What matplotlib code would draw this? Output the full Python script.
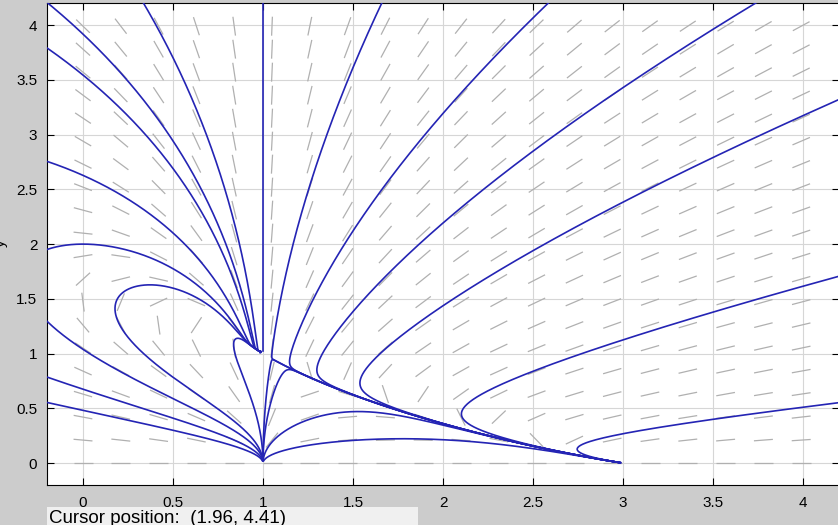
import numpy as np
import matplotlib.pyplot as plt
from matplotlib.collections import LineCollection

plt.rcParams['font.family'] = ['Liberation Sans', 'DejaVu Sans']

# window and tick labels
x_lim = [-0.2, 4.2]
y_lim = [-0.2, 4.2]
x_ticks = [0, 0.5, 1, 1.5, 2, 2.5, 3, 3.5, 4]
x_labels = ['0', '0.5', '1', '1.5', '2', '2.5', '3', '3.5', '4']
y_ticks = [0, 0.5, 1, 1.5, 2, 2.5, 3, 3.5, 4]
y_labels = ['0', '0.5', '1', '1.5', '2', '2.5', '3', '3.5', '4']

# equilibrium points of the system
eq_x = [1, 1, 3]
eq_y = [0, 1, 0]

# points picked on each solution curve
start_x = [-0.18, -0.19, 0.34, -0.19, 0.0, 0.18, 0.86, -0.19, -0.19, -0.19,
           1.0, 1.325, 1.83, 2.15, 3.02, 3.32, 4.19, 1.012, 1.035, 1.5, 2.04]
start_y = [4.18, 3.78, 4.19, 2.75, 2.0, 1.37, 1.14, 1.28, 0.78, 0.55,
           2.5, 2.86, 2.86, 2.4, 2.4, 1.29, 0.55, 0.5, 0.5, 0.47, 0.21]

cursor_text = 'Cursor position:  (1.96, 4.41)'


def field(x, y):
    # x' = (x-1)(3-x-2y),  y' = y(2-x-y)
    return (x - 1) * (3 - x - 2 * y), y * (2 - x - y)


W, H = 838, 525
fig = plt.figure(figsize=(W / 100, H / 100), dpi=100, facecolor='#cccccc')
ax_w = 792 / W
ax_h = 481.8 / H
ax = fig.add_axes([47 / W, 40 / H, ax_w, ax_h])
ax.set_facecolor('white')
ax.set_xlim(x_lim)
ax.set_ylim(y_lim)

# pixels per data unit, so dashes and steps are even on screen
sx = 792 / (x_lim[1] - x_lim[0])
sy = 481.8 / (y_lim[1] - y_lim[0])


def direction(x, y, sign):
    u, v = field(x, y)
    U, V = u * sx, v * sy
    n = np.hypot(U, V)
    if n < 1e-9:
        return None
    return sign * U / n / sx, sign * V / n / sy


def trace(x0, y0, sign, h=0.6, nmax=8000):
    xs, ys = [x0], [y0]
    x, y = x0, y0
    for i in range(nmax):
        d1 = direction(x, y, sign)
        if d1 is None:
            break
        d2 = direction(x + 0.5 * h * d1[0], y + 0.5 * h * d1[1], sign)
        if d2 is None:
            break
        x += h * d2[0]
        y += h * d2[1]
        xs.append(x)
        ys.append(y)
        if x < x_lim[0] - 0.05 or x > x_lim[1] + 0.05 or y < y_lim[0] - 0.05 or y > y_lim[1] + 0.05:
            break
        near = False
        for ex, ey in zip(eq_x, eq_y):
            if np.hypot((x - ex) * sx, (y - ey) * sy) < 3:
                near = True
        if near:
            break
    return xs, ys


# direction field
gx = np.arange(20) * 0.21
gy = np.arange(20) * 0.21
segs = []
half = 9.5
for xv in gx:
    for yv in gy:
        u, v = field(xv, yv)
        U, V = u * sx, v * sy
        n = np.hypot(U, V)
        if n < 1e-9:
            continue
        dx = half * U / n / sx
        dy = half * V / n / sy
        segs.append([(xv - dx, yv - dy), (xv + dx, yv + dy)])
ax.add_collection(LineCollection(segs, colors='#b0b0b0', linewidths=0.9, zorder=2))

# solution curves, forward and backward from each picked point
for x0, y0 in zip(start_x, start_y):
    fx, fy = trace(x0, y0, 1)
    bx, by = trace(x0, y0, -1)
    xs = bx[::-1] + fx[1:]
    ys = by[::-1] + fy[1:]
    ax.plot(xs, ys, color='#2424b4', lw=1.2, zorder=3)

ax.set_xticks(x_ticks)
ax.set_xticklabels(x_labels)
ax.set_yticks(y_ticks)
ax.set_yticklabels(y_labels)
ax.tick_params(direction='in', length=5, width=0.8, top=True, right=True,
               labelsize=11, colors='black')
ax.tick_params(axis='x', pad=8)
ax.tick_params(axis='y', pad=7)
ax.grid(True, color='#d6d6d6', lw=0.8, zorder=1)
ax.set_axisbelow(True)
for s in ax.spines.values():
    s.set_color('black')
    s.set_linewidth(0.8)

# status bar at the bottom, partly cut off
fig.patches.append(plt.Rectangle((47 / W, 0), (418 - 47) / W, (525 - 507) / H,
                                 transform=fig.transFigure, facecolor='#f0f0f0',
                                 edgecolor='none', zorder=5))
fig.text(49 / W, (525 - 510) / H, cursor_text, fontsize=13.5, va='top', ha='left', zorder=6)
fig.text(-6 / W, (525 - 243) / H, 'y', fontsize=11, rotation=90, va='center', ha='left')

fig.savefig('out.png', dpi=100, facecolor=fig.get_facecolor())
